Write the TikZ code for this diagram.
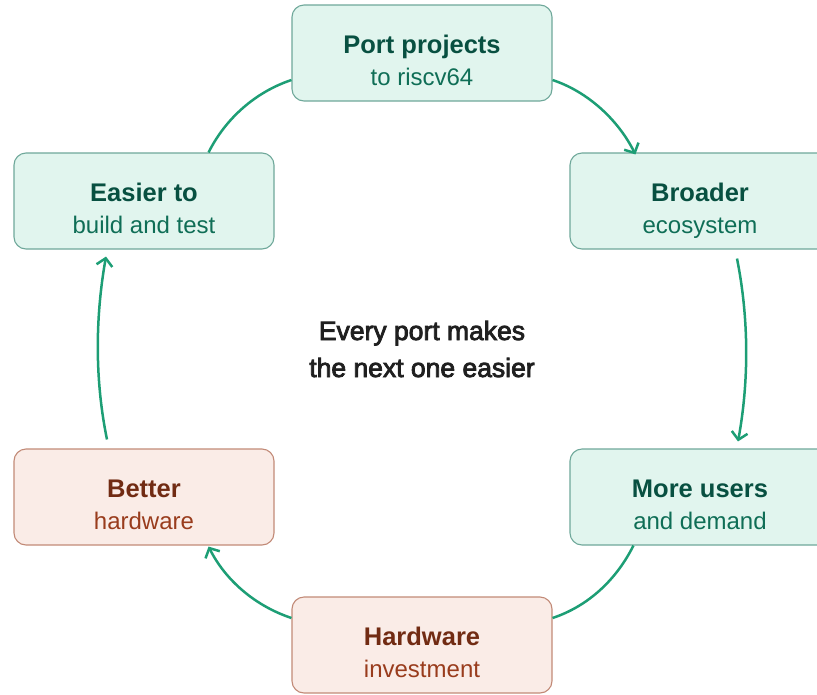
\documentclass[tikz,border=0pt]{standalone}
\usepackage{fontspec}
\setmainfont{Liberation Sans}
\usetikzlibrary{arrows.meta}
\newcommand\semitext[1]{\special{pdf:literal direct 2 Tr 0.8 w}#1\special{pdf:literal direct 0 Tr}}
\definecolor{tealbg}{HTML}{E1F5EE}
\definecolor{tealbd}{HTML}{6FA89A}
\definecolor{tealtitle}{HTML}{085041}
\definecolor{tealsub}{HTML}{0F6E56}
\definecolor{tealarrow}{HTML}{1D9E75}
\definecolor{coralbg}{HTML}{FAECE7}
\definecolor{coralbd}{HTML}{C28A77}
\definecolor{coraltitle}{HTML}{712B13}
\definecolor{coralsub}{HTML}{993C1D}
\definecolor{centertext}{HTML}{1F1F1F}
\begin{document}
\begin{tikzpicture}[x=1pt,y=-1pt,
  box/.style={rounded corners=12pt, minimum width=260pt, minimum height=96pt, line width=1.1pt, inner sep=0pt},
  greenbox/.style={box, draw=tealbd, fill=tealbg},
  coralbox/.style={box, draw=coralbd, fill=coralbg},
  ttl/.style={anchor=base, inner sep=0pt, font=\fontsize{25.5pt}{28pt}\selectfont\bfseries},
  sub/.style={anchor=base, inner sep=0pt, font=\fontsize{24pt}{28pt}\selectfont},
  gt/.style={ttl, text=tealtitle},
  gs/.style={sub, text=tealsub},
  ct/.style={ttl, text=coraltitle},
  cs/.style={sub, text=coralsub},
  conn/.style={draw=tealarrow, line width=2.5pt},
  arr/.style={conn, -{Straight Barb[length=7.5pt,width=16pt]}},
  mid/.style={anchor=base, inner sep=0pt, text=centertext, font=\fontsize{26.5pt}{30pt}\selectfont}]
\useasboundingbox (0,0) rectangle (817,694);
\clip (0,0) rectangle (817,694);

% boxes
\node[greenbox] (port) at (422,53) {};
\node[greenbox] (broader) at (700,201) {};
\node[greenbox] (easier) at (144,201) {};
\node[coralbox] (better) at (144,497) {};
\node[greenbox] (more) at (700,497) {};
\node[coralbox] (hw) at (422,645) {};

% texts
\node[gt] (port-t) at (port.center) {Port projects};
\node[gs] (port-s) at ([yshift=-32pt]port.center) {to riscv64};
\node[gt] (broader-t) at (broader.center) {Broader};
\node[gs] (broader-s) at ([yshift=-32pt]broader.center) {ecosystem};
\node[gt] (easier-t) at (easier.center) {Easier to};
\node[gs] (easier-s) at ([yshift=-32pt]easier.center) {build and test};
\node[ct] (better-t) at (better.center) {Better};
\node[cs] (better-s) at ([yshift=-32pt]better.center) {hardware};
\node[gt] (more-t) at (more.center) {More users};
\node[gs] (more-s) at ([yshift=-32pt]more.center) {and demand};
\node[ct] (hw-t) at (hw.center) {Hardware};
\node[cs] (hw-s) at ([yshift=-32pt]hw.center) {investment};

\node[mid] (c1) at (422,340) {\semitext{Every port makes}};
\node[mid] (c2) at (422,377) {\semitext{the next one easier}};

% connectors
\draw[arr] ([yshift=-27pt]port.east) .. controls +(36,12) and +(-17,-34) .. ([xshift=66pt,yshift=-2pt]broader.north west);
\draw[arr] ([xshift=37pt,yshift=-9pt]broader.south) .. controls +(12,60) and +(11,-60) .. ([xshift=38pt,yshift=7pt]more.north);
\draw[conn] ([xshift=64pt]more.south west) .. controls +(-17,34) and +(36,-12) .. ([yshift=27pt]hw.east);
\draw[arr] ([yshift=27pt]hw.west) .. controls +(-36,-12) and +(17,34) .. ([xshift=-66pt,yshift=-1pt]better.south east);
\draw[arr] ([xshift=-37pt,yshift=9pt]better.north) .. controls +(-12,-58) and +(-11,62) .. ([xshift=-38pt,yshift=-7pt]easier.south);
\draw[conn] ([xshift=-66pt]easier.north east) .. controls +(17,-34) and +(-36,12) .. ([yshift=-27pt]port.west);
\end{tikzpicture}
\end{document}
